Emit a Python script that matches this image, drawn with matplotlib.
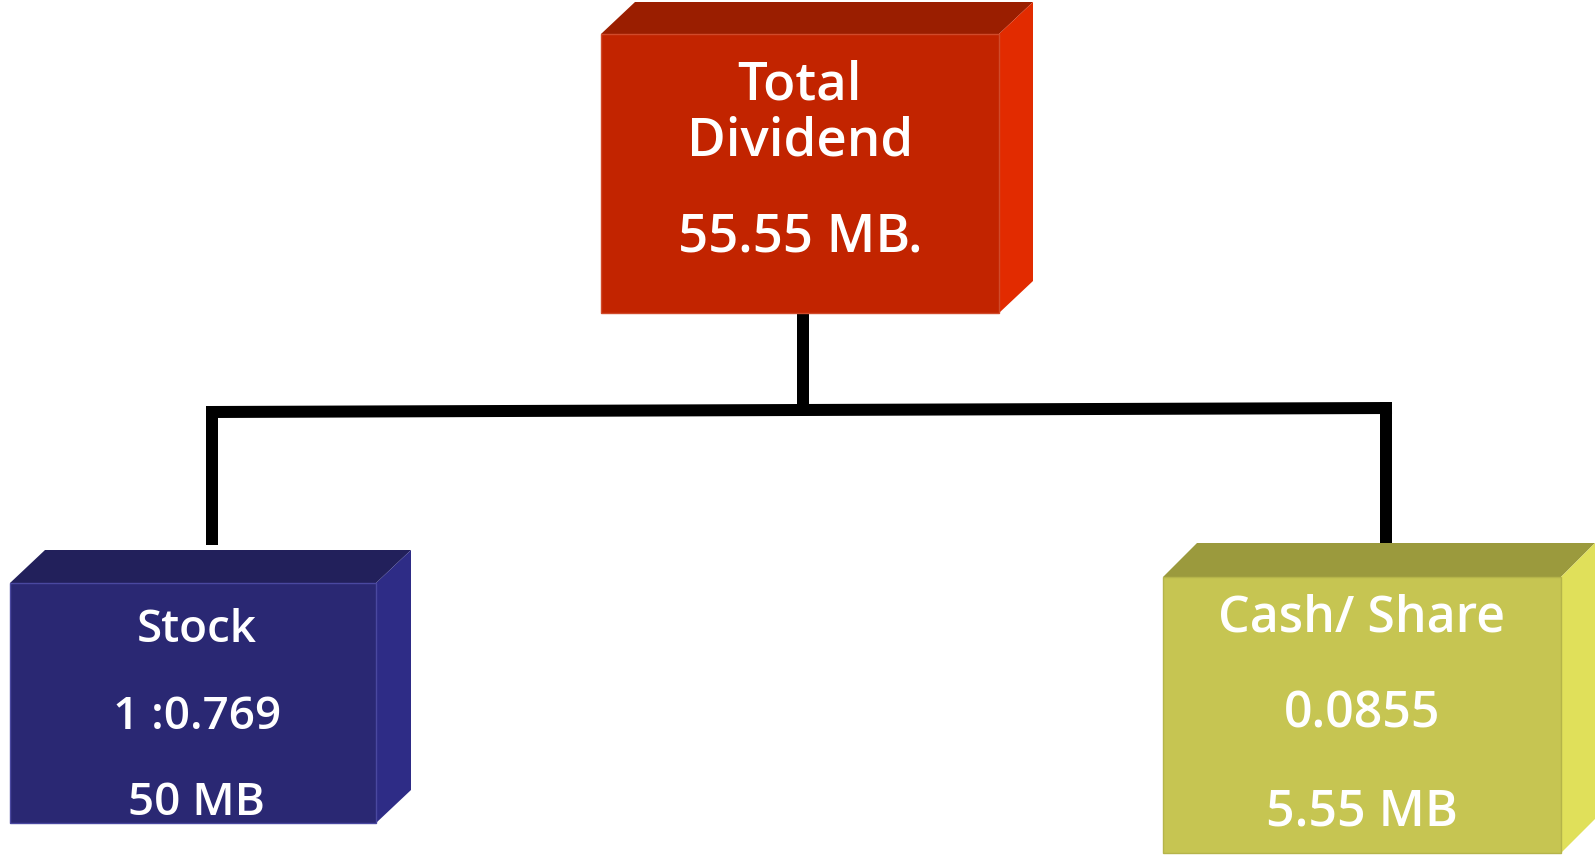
import matplotlib.pyplot as plt
from matplotlib.patches import Polygon

plt.rcParams['font.family'] = ['Open Sans', 'DejaVu Sans']

# data
node_names = ["Total\nDividend", "Stock", "Cash/ Share"]
node_ratios = [None, "1 :0.769", "0.0855"]
node_amounts = ["55.55 MB.", "50 MB", "5.55 MB"]
node_parent = [None, 0, 0]

# layout (pixel space): front face x0, y0, x1, y1, depth dx, dy
boxes = [
    (601, 34, 999, 313, 34, 32),
    (10, 583, 376, 823, 35, 33),
    (1163, 577, 1561, 853, 34, 34),
]
baselines = [
    [99, 155, 251],
    [642, 729, 815],
    [632, 728, 825],
]
text_x = [800, 197, 1362]
font_sizes = [38, 33, 36]
colors = [
    ("#C22400", "#9A1E00", "#E22B00"),   # front, top, side
    ("#2A2873", "#22205B", "#2E2C86"),
    ("#C6C552", "#9B9A3D", "#E0E05A"),
]
edge_cols = ["#D04A2A", "#4A48A0", "#B5B44A"]

fig = plt.figure(figsize=(15.95, 8.57), dpi=100)
ax = fig.add_axes([0, 0, 1, 1])
ax.set_xlim(0, 1595)
ax.set_ylim(857, 0)
ax.axis('off')

# connectors
lw = 12 * 72 / 100
ax.plot([803, 803], [312, 410], color='black', lw=lw, solid_capstyle='butt')
ax.plot([211, 1392], [412, 408], color='black', lw=lw, solid_capstyle='butt')
ax.plot([212, 212], [406, 545], color='black', lw=lw, solid_capstyle='butt')
ax.plot([1386, 1386], [402, 543], color='black', lw=lw, solid_capstyle='butt')

for i, (x0, y0, x1, y1, dx, dy) in enumerate(boxes):
    front, top, side = colors[i]
    ax.add_patch(Polygon([(x0, y0), (x1, y0), (x1 + dx, y0 - dy), (x0 + dx, y0 - dy)],
                         closed=True, facecolor=top, edgecolor='none', zorder=3))
    ax.add_patch(Polygon([(x1, y0), (x1 + dx, y0 - dy), (x1 + dx, y1 - dy), (x1, y1)],
                         closed=True, facecolor=side, edgecolor='none', zorder=3))
    ax.add_patch(Polygon([(x0, y0), (x1, y0), (x1, y1), (x0, y1)],
                         closed=True, facecolor=front, edgecolor=edge_cols[i], lw=1, zorder=4))

    lines = node_names[i].split("\n")
    if node_ratios[i]:
        lines.append(node_ratios[i])
    lines.append(node_amounts[i])
    for txt, yb in zip(lines, baselines[i]):
        ax.text(text_x[i], yb, txt, color='white', fontsize=font_sizes[i],
                fontweight='semibold', ha='center', va='baseline', zorder=5)

fig.savefig('out.png', dpi=100)
